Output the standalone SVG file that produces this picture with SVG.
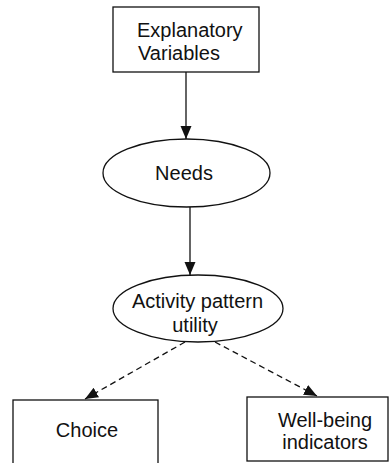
<svg xmlns="http://www.w3.org/2000/svg" width="390" height="463" viewBox="0 0 390 463">
<style>
.box{fill:#fff;stroke:#111;stroke-width:1.3}
.t{font-family:"Liberation Sans",Arial,sans-serif;font-size:20px;fill:#111;text-anchor:middle}
.l{text-anchor:start}
.c{stroke:#111;stroke-width:1.3;fill:none}
.d{stroke-dasharray:6 4}
</style>
<defs>
<marker id="ah" markerUnits="userSpaceOnUse" markerWidth="13" markerHeight="13" viewBox="0 0 13 13" refX="13" refY="6.5" orient="auto">
<path d="M0,1 L13,6.5 L0,12 Z" fill="#111"/>
</marker>
</defs>
<rect width="390" height="463" fill="#fff"/>
<g id="connectors">
<line class="c" x1="186" y1="72" x2="186" y2="139" marker-end="url(#ah)"/>
<line class="c" x1="190" y1="207" x2="190" y2="275" marker-end="url(#ah)"/>
<line class="c d" x1="185" y1="342" x2="85" y2="399" marker-end="url(#ah)"/>
<line class="c d" x1="215" y1="342" x2="317" y2="396" marker-end="url(#ah)"/>
</g>
<g id="explanatory">
<rect class="box" x="113" y="7" width="146" height="65"/>
<text class="t l" x="137" y="37">Explanatory</text>
<text class="t l" x="138" y="60">Variables</text>
</g>
<g id="needs">
<ellipse class="box" cx="186.5" cy="173" rx="83.5" ry="34"/>
<text class="t" x="184" y="180">Needs</text>
</g>
<g id="activity">
<ellipse class="box" cx="198" cy="308.5" rx="85" ry="33.5"/>
<text class="t" x="197.5" y="308">Activity pattern</text>
<text class="t" x="195" y="332">utility</text>
</g>
<g id="choice">
<rect class="box" x="13" y="400" width="145" height="70"/>
<text class="t" x="87" y="437">Choice</text>
</g>
<g id="wellbeing">
<rect class="box" x="247" y="397" width="141" height="64"/>
<text class="t" x="325" y="427">Well-being</text>
<text class="t" x="325" y="449">indicators</text>
</g>
</svg>
